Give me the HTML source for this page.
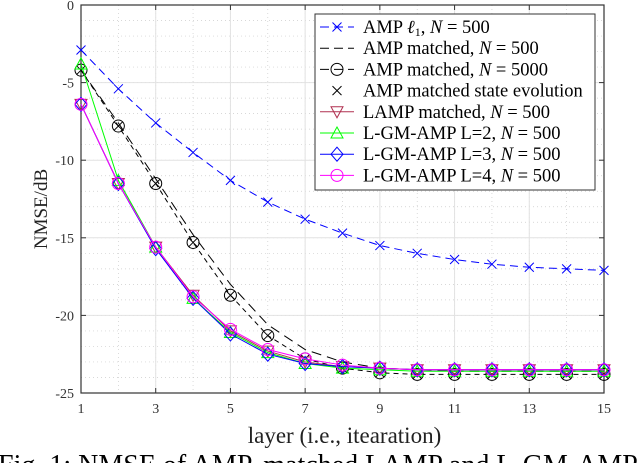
<!DOCTYPE html>
<html><head><meta charset="utf-8"><style>
body{margin:0;background:#fff;width:640px;height:463px;overflow:hidden}
svg{display:block}
text{font-family:"Liberation Serif",serif}
</style></head><body>
<svg id="chart" width="640" height="463"></svg>
<script>
const layers=[1,2,3,4,5,6,7,8,9,10,11,12,13,14,15];
const ampL1=[-2.9,-5.4,-7.6,-9.5,-11.3,-12.7,-13.8,-14.7,-15.5,-16.0,-16.4,-16.7,-16.9,-17.0,-17.1];
const ampMatched500=[-4.2,-7.6,-11.2,-14.8,-18.0,-20.6,-22.2,-23.0,-23.4,-23.5,-23.6,-23.6,-23.6,-23.6,-23.6];
const ampMatched5000=[-4.2,-7.8,-11.5,-15.3,-18.7,-21.3,-22.8,-23.4,-23.7,-23.8,-23.8,-23.8,-23.8,-23.8,-23.8];
const stateEvo=[-4.2,-7.8,-11.5,-15.3,-18.7,-21.3,-22.8,-23.4,-23.7,-23.8,-23.8,-23.8,-23.8,-23.8,-23.8];
const lamp=[-6.4,-11.5,-15.6,-18.7,-21.0,-22.3,-23.0,-23.3,-23.4,-23.5,-23.5,-23.5,-23.5,-23.5,-23.5];
const lgm2=[-3.8,-11.3,-15.6,-18.9,-21.1,-22.4,-23.1,-23.4,-23.5,-23.6,-23.6,-23.6,-23.6,-23.6,-23.6];
const lgm3=[-6.4,-11.5,-15.7,-18.9,-21.2,-22.5,-23.1,-23.3,-23.4,-23.5,-23.5,-23.5,-23.5,-23.5,-23.5];
const lgm4=[-6.4,-11.5,-15.6,-18.8,-20.9,-22.2,-22.8,-23.2,-23.4,-23.5,-23.5,-23.5,-23.5,-23.5,-23.5];
const xTicks=[1,3,5,7,9,11,13,15];
const yTicks=[0,-5,-10,-15,-20,-25];

const L=81,R=604,T=5,B=393;
const sx=v=>L+(v-1)/(15-1)*(R-L);
const sy=v=>T+(0-v)/25*(B-T);
const svg=document.getElementById('chart');
const NS='http://www.w3.org/2000/svg';
function mk(tag,attrs,parent){const e=document.createElementNS(NS,tag);for(const k in attrs)e.setAttribute(k,attrs[k]);(parent||svg).appendChild(e);return e;}

for(let x=1;x<=15;x++){const e=mk('line',{x1:sx(x),x2:sx(x),y1:T,y2:B,stroke:'#ccc','stroke-width':0.7,'stroke-dasharray':'1,3'});

}
for(let y=0;y>=-25;y--){const e=mk('line',{x1:L,x2:R,y1:sy(y),y2:sy(y),stroke:'#ccc','stroke-width':0.7,'stroke-dasharray':'1,3'});

}
xTicks.forEach(v=>{const e=mk('line',{x1:sx(v),x2:sx(v),y1:T,y2:B,stroke:'#e2e2e2','stroke-width':1});


const t=mk('text',{x:sx(v),y:B+20,'text-anchor':'middle','font-size':14,fill:'#333','font-family':'Liberation Sans, sans-serif'});t.textContent=v;


mk('line',{x1:sx(v),x2:sx(v),y1:B,y2:B-5,stroke:'#333'});mk('line',{x1:sx(v),x2:sx(v),y1:T,y2:T+5,stroke:'#333'});});
yTicks.forEach(v=>{const e=mk('line',{x1:L,x2:R,y1:sy(v),y2:sy(v),stroke:'#e2e2e2','stroke-width':1});


const t=mk('text',{x:L-7,y:sy(v)+5,'text-anchor':'end','font-size':14,fill:'#333','font-family':'Liberation Sans, sans-serif'});t.textContent=v;


mk('line',{x1:L,x2:L+5,y1:sy(v),y2:sy(v),stroke:'#333'});mk('line',{x1:R,x2:R-5,y1:sy(v),y2:sy(v),stroke:'#333'});});
const box=mk('rect',{x:L,y:T,width:R-L,height:B-T,fill:'none',stroke:'#333','stroke-width':1.2});



function marker(type,x,y,color,g){
  if(type==='x'){mk('path',{d:`M${x-4.5},${y-4.5}L${x+4.5},${y+4.5}M${x-4.5},${y+4.5}L${x+4.5},${y-4.5}`,stroke:color,'stroke-width':1,fill:'none'},g);}
  else if(type==='o'){mk('circle',{cx:x,cy:y,r:6,stroke:color,fill:'none','stroke-width':1},g);}
  else if(type==='v'){mk('path',{d:`M${x-6},${y-5}L${x+6},${y-5}L${x},${y+6}Z`,stroke:color,fill:'none','stroke-width':1},g);}
  else if(type==='^'){mk('path',{d:`M${x-6},${y+5}L${x+6},${y+5}L${x},${y-6}Z`,stroke:color,fill:'none','stroke-width':1},g);}
  else if(type==='d'){mk('path',{d:`M${x},${y-7}L${x+6},${y}L${x},${y+7}L${x-6},${y}Z`,stroke:color,fill:'none','stroke-width':1},g);}
}
const series=[
 {name:'series-amp-l1',data:ampL1,color:'#0000ff',dash:'8,5',m:'x',line:true},
 {name:'series-amp-matched-500',data:ampMatched500,color:'#000',dash:'10,6',m:null,line:true},
 {name:'series-amp-matched-5000',data:ampMatched5000,color:'#000',dash:'5,4',m:'o',line:true},
 {name:'series-state-evolution',data:stateEvo,color:'#000',dash:null,m:'x',line:false},
 {name:'series-lamp',data:lamp,color:'#b03050',dash:null,m:'v',line:true},
 {name:'series-lgm-l2',data:lgm2,color:'#00ff00',dash:null,m:'^',line:true},
 {name:'series-lgm-l3',data:lgm3,color:'#0000ff',dash:null,m:'d',line:true},
 {name:'series-lgm-l4',data:lgm4,color:'#ff00ff',dash:null,m:'o',line:true},
];
series.forEach(s=>{
 const g=mk('g',{});
 
 
 if(s.line){const p=mk('polyline',{points:layers.map((x,i)=>sx(x)+','+sy(s.data[i])).join(' '),fill:'none',stroke:s.color,'stroke-width':1},g);
  if(s.dash)p.setAttribute('stroke-dasharray',s.dash);}
 if(s.m)layers.forEach((x,i)=>marker(s.m,sx(x),sy(s.data[i]),s.color,g));
});

const lg=mk('g',{});


mk('rect',{x:315,y:14,width:280,height:176,fill:'#fff',stroke:'#333','stroke-width':1},lg);
const labels=['AMP <tspan font-style="italic">ℓ</tspan><tspan font-size="12" dy="3">1</tspan><tspan dy="-3">, <tspan font-style="italic">N</tspan> = 500</tspan>',
'AMP matched, <tspan font-style="italic">N</tspan> = 500','AMP matched, <tspan font-style="italic">N</tspan> = 5000','AMP matched state evolution',
'LAMP matched, <tspan font-style="italic">N</tspan> = 500','L-GM-AMP L=2, <tspan font-style="italic">N</tspan> = 500','L-GM-AMP L=3, <tspan font-style="italic">N</tspan> = 500','L-GM-AMP L=4, <tspan font-style="italic">N</tspan> = 500'];
series.forEach((s,i)=>{
 const y=27+i*21.2;
 const e=mk('g',{},lg);
 
 
 if(s.line){const l=mk('line',{x1:320,x2:354,y1:y,y2:y,stroke:s.color,'stroke-width':1},e);if(s.dash)l.setAttribute('stroke-dasharray','9,5');}
 if(s.m)marker(s.m,337,y,s.color,e);
 const t=mk('text',{x:363,y:y+6,'font-size':18.5,fill:'#000'},e);t.innerHTML=labels[i];
});

const xl=mk('text',{x:(L+R)/2+2,y:B+50,'text-anchor':'middle','font-size':23,fill:'#222'});xl.textContent='layer (i.e., itearation)';


const yl=mk('text',{x:0,y:0,'text-anchor':'middle','font-size':19,fill:'#222',transform:`translate(47,${(T+B)/2+10}) rotate(-90)`});yl.textContent='NMSE/dB';


const cap=mk('text',{x:-2,y:474,'font-size':28,fill:'#000'});cap.textContent='Fig. 1: NMSE of AMP, matched LAMP and L-GM-AMP';


</script>
</body></html>
